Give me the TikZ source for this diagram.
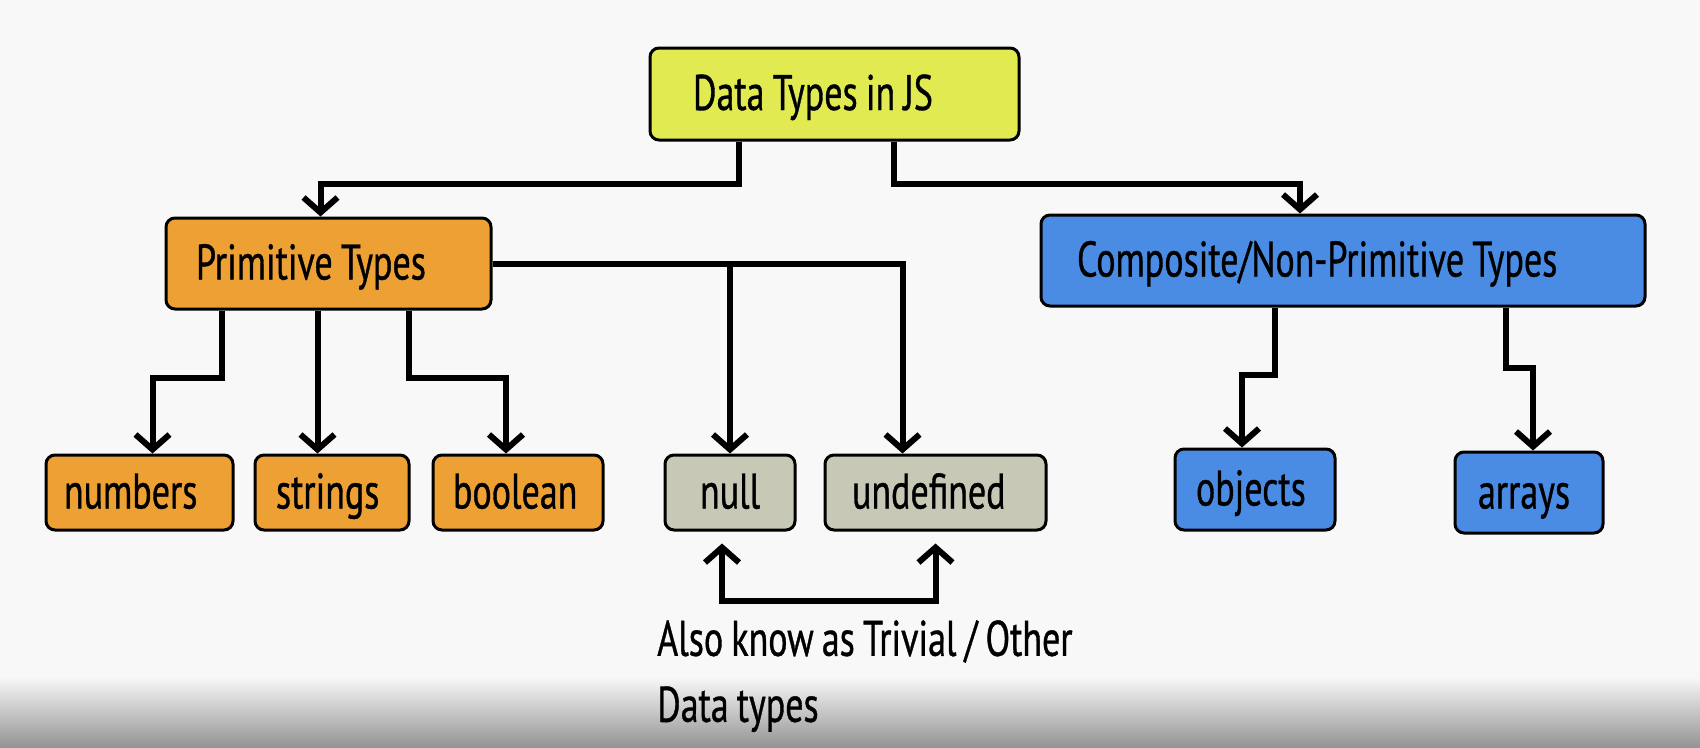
\documentclass[tikz,border=0pt]{standalone}
\usepackage{fontspec}
\setmainfont[FakeStretch=0.72, WordSpace=0.85, FakeBold=0.7]{PT Sans}
\usepackage{tikz}
\usetikzlibrary{positioning,arrows.meta}

\definecolor{bgcol}{RGB}{248,248,248}
\definecolor{jsyellow}{RGB}{226,234,82}
\definecolor{primorange}{RGB}{237,160,52}
\definecolor{trivgray}{RGB}{200,200,182}
\definecolor{compblue}{RGB}{74,140,228}

\tikzset{
  box/.style={draw, line width=3pt, rounded corners=9pt, align=flush left,
              font=\fontsize{50}{58}\selectfont, minimum height=75pt,
              text height=40pt, text depth=8pt},
  link/.style={line width=6pt, -{Straight Barb[length=15pt,width=34pt]}},
}

\begin{document}
\begin{tikzpicture}[x=1pt, y=-1pt]
    \fill[bgcol] (0,0) rectangle (1700,747);
    \shade[top color=bgcol, bottom color=black!42] (0,677) rectangle (1700,747);

    \node[box, fill=jsyellow, minimum height=92pt, text width=283pt, inner xsep=43pt] at (834.5,94) (DT) {Data Types in JS};
    \node[box, fill=primorange, minimum height=91pt, text width=265pt, inner xsep=30pt] at (328.5,263.5) (PT) {Primitive Types};
    \node[box, fill=compblue, minimum height=91pt, text width=532pt, inner xsep=36pt] at (1343,260.5) (CT) {Composite/Non-Primitive Types};

    \node[box, fill=primorange, text width=151pt, inner xsep=18pt] at (139.5,492.5) (NUM) {numbers};
    \node[box, fill=primorange, text width=112pt, inner xsep=21pt] at (332,492.5) (STR) {strings};
    \node[box, fill=primorange, text width=130pt, inner xsep=20pt] at (518,492.5) (BOO) {boolean};
    \node[box, fill=trivgray, text width=60pt, inner xsep=35pt] at (730,492.5) (NUL) {null};
    \node[box, fill=trivgray, text width=167pt, inner xsep=27pt] at (935.5,492.5) (UND) {undefined};
    \node[box, fill=compblue, minimum height=81pt, text width=118pt, inner xsep=21pt] at (1255,489.5) (OBJ) {objects};
    \node[box, fill=compblue, minimum height=81pt, text width=102pt, inner xsep=23pt] at (1529,492.5) (ARR) {arrays};

    \node[anchor=north west, inner sep=0pt, align=left, font=\fontsize{50}{66}\selectfont] at (657,620) (NOTE) {Also know as Trivial / Other\\Data types};

    % top level
    \draw[link] ([xshift=-96pt]DT.south) -- ++(0,42) -| ([xshift=-8pt]PT.north);
    \draw[link] ([xshift=59pt]DT.south) -- ++(0,42) -| ([xshift=-43pt]CT.north);

    % primitive types
    \draw[link] ([xshift=-107pt]PT.south) -- ++(0,67) -| ([xshift=13pt]NUM.north);
    \draw[link] ([xshift=-11pt]PT.south) -- ([xshift=-11pt]PT.south |- STR.north);
    \draw[link] ([xshift=80pt]PT.south) -- ++(0,67) -| ([xshift=-12pt]BOO.north);
    \draw[link] (PT.east) -| ([xshift=-33pt]UND.north);
    \draw[link] (PT.east -| NUL.north) -- (NUL.north);

    % trivial ones
    \draw[link, {Straight Barb[length=15pt,width=34pt]}-{Straight Barb[length=15pt,width=34pt]}]
        ([xshift=-8pt,yshift=-12pt]NUL.south) -- ++(0,57) -| ([yshift=-12pt]UND.south);

    % composite types
    \draw[link] ([xshift=-68pt]CT.south) -- ++(0,67) -| ([xshift=-13pt]OBJ.north);
    \draw[link] ([xshift=163pt]CT.south) -- ++(0,60) -| ([xshift=4pt]ARR.north);
\end{tikzpicture}
\end{document}
